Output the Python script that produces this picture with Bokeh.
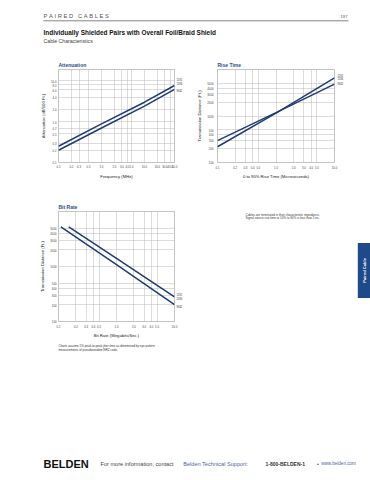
import math
from bokeh.plotting import figure
from bokeh.layouts import column, row
from bokeh.models import Range1d, FixedTicker, Label, CustomJSTickFormatter, LogAxis
from bokeh.embed import file_html
from bokeh.resources import INLINE

FONT = "Liberation Sans"
NAVY = "#1f3c72"
TITLE_BLUE = "#2b4e8e"
GRID = "#b8b8b8"
OUTLINE = "#9c9c9c"
NB = "\u00a0"

# ---------------- data ----------------
cable_codes = ["1192", "1186", "9842"]

# Attenuation
att_freq = [0.1, 1.0, 10.0, 50.0]
att_upper = [0.25, 0.88, 3.0, 7.7]
att_lower = [0.20, 0.70, 2.4, 6.2]
att_x_ticks = [0.1, 0.2, 0.3, 0.5, 1, 2, 3, 4, 5, 10, 20, 30, 40, 50]
att_x_labels = ["0.1", "0.2", "0.3", "0.5", "1.0", "2.0", "3.0", "4.0", "5.0",
                "10.0", "20.0", "30.0", "40.0", "50.0"]
att_y_ticks = [0.1, 0.2, 0.3, 0.5, 0.7, 1, 2, 4, 6, 8, 10]
att_y_labels = ["0.1", "0.2", "0.3", "0.5", "0.7", "1.0", "2.0", "4.0", "6.0", "8.0", "10.0"]

# Rise time
rise_time = [0.1, 1.0, 10.0]
rise_a = [218, 1150, 6640]
rise_b = [295, 1180, 4840]

# Bit rate
bit_x_upper = [0.15, 1.0, 10.0]
bit_upper = [5260, 1400, 280]
bit_x_lower = [0.11, 1.0, 10.0]
bit_lower = [5260, 1080, 203]

time_ticks = [0.1, 0.2, 0.3, 0.4, 0.5, 1, 2, 3, 4, 5, 10]
time_labels = ["0.1", "0.2", "0.3", "0.4", "0.5", "1.0", "2.0", "3.0", "4.0", "5.0", "10.0"]
dist_ticks = [100, 200, 300, 400, 500, 1000, 2000, 3000, 4000, 5000]
dist_labels = ["100", "200", "300", "400", "500", "1000", "2000", "3000", "4000", "5000"]


def fmt(ticks, labels):
    return CustomJSTickFormatter(args=dict(t=ticks, l=labels), code="""
        for (let i = 0; i < t.length; i++) {
            if (Math.abs(t[i] - tick) <= 1e-6 * t[i]) return l[i];
        }
        return "";
    """)


def style_axis(ax, size="2.8px"):
    ax.axis_line_color = None
    ax.major_tick_line_color = None
    ax.minor_tick_line_color = None
    ax.major_tick_in = 0
    ax.major_tick_out = 0
    ax.minor_tick_in = 0
    ax.minor_tick_out = 0
    ax.major_label_text_font = FONT
    ax.major_label_text_font_size = size
    ax.major_label_text_color = "#444444"
    ax.axis_label_text_font = FONT
    ax.axis_label_text_font_size = "4.2px"
    ax.axis_label_text_font_style = "normal"
    ax.axis_label_text_color = "#222222"


def chart(w, h, xr, yr, bl, br, bt, bb, xt, xl, yt, yl, xlabel, ylabel, ttl,
          x_std=(2, 2), y_std=(2, 2)):
    p = figure(width=w, height=h, x_axis_type="log", y_axis_type="log",
               x_range=Range1d(*xr), y_range=Range1d(*yr),
               output_backend="svg", toolbar_location=None,
               min_border_left=bl, min_border_right=br,
               min_border_top=bt, min_border_bottom=bb)
    p.outline_line_color = OUTLINE
    p.outline_line_width = 0.6
    p.xaxis.ticker = FixedTicker(ticks=xt, minor_ticks=[])
    p.yaxis.ticker = FixedTicker(ticks=yt, minor_ticks=[])
    p.xgrid.ticker = FixedTicker(ticks=xt, minor_ticks=[])
    p.ygrid.ticker = FixedTicker(ticks=yt, minor_ticks=[])
    p.xaxis.formatter = fmt(xt, xl)
    p.yaxis.formatter = fmt(yt, yl)
    p.grid.grid_line_color = GRID
    p.grid.grid_line_width = 0.5
    style_axis(p.xaxis[0])
    style_axis(p.yaxis[0])
    p.xaxis.axis_label = xlabel
    p.yaxis.axis_label = ylabel
    p.xaxis.major_label_standoff = x_std[0]
    p.xaxis.axis_label_standoff = x_std[1]
    p.yaxis.major_label_standoff = y_std[0]
    p.yaxis.axis_label_standoff = y_std[1]
    p.title.text = ttl
    p.title.text_font = FONT
    p.title.text_font_size = "5px"
    p.title.text_font_style = "bold"
    p.title.text_color = TITLE_BLUE
    p.title.align = "left"
    p.title.offset = 0
    p.title.standoff = 2.5
    return p


def tags(p, ys, labels, standoff):
    ax = LogAxis(ticker=FixedTicker(ticks=ys, minor_ticks=[]), formatter=fmt(ys, labels))
    style_axis(ax, size="2.6px")
    ax.major_label_standoff = standoff
    ax.major_label_text_color = "#333333"
    p.add_layout(ax, "right")


def text_fig(w, h, x0, y0):
    p = figure(width=w, height=h, x_range=Range1d(x0, x0 + w), y_range=Range1d(y0 + h, y0),
               x_axis_location=None, y_axis_location=None,
               output_backend="svg", toolbar_location=None, min_border=0)
    p.grid.visible = False
    p.outline_line_color = None
    return p


def txt(p, x, y, s, size, color="#333333", style="normal", align="left", angle=0):
    p.add_layout(Label(x=x, y=y, text=s, text_font=FONT, text_font_size=f"{size}px",
                       text_color=color, text_font_style=style, text_align=align,
                       text_baseline="middle", angle=angle))


# ---------------- header ----------------
H = text_fig(370, 58, 0, 0)
txt(H, 43, 15.7, NB.join("PAIRED") + NB * 3 + NB.join("CABLES"), 5.8, color="#555555")
txt(H, 347, 15.7, "197", 4.2, color="#555555", align="right")
H.segment(x0=[43], y0=[20.3], x1=[348], y1=[20.3], line_color="#666666", line_width=0.8)
txt(H, 43, 32, "Individually Shielded Pairs with Overall Foil/Braid Shield", 6.45,
    color="#111111", style="bold")
txt(H, 43, 40, "Cable Characteristics", 5.2, color="#444444")

# ---------------- attenuation ----------------
A = chart(185, 142, (0.1, 50), (0.1, 19), 58, 10, 10, 38,
          att_x_ticks, att_x_labels, att_y_ticks, att_y_labels,
          "Frequency (MHz)", "Attenuation (dB/100 Ft.)", "Attenuation",
          x_std=(2, 3), y_std=(2, 2))
A.line(att_freq, att_upper, line_color=NAVY, line_width=1.5)
A.line(att_freq, att_lower, line_color=NAVY, line_width=1.5)
tags(A, [att_upper[-1] * 1.34, att_upper[-1] * 1.10, att_lower[-1] * 0.93], cable_codes, 2)

# ---------------- rise time ----------------
R = chart(185, 142, (0.1, 10), (100, 10000), 32, 36, 10, 20,
          time_ticks, time_labels, dist_ticks, dist_labels,
          "0 to 90% Rise Time (Microseconds)", "Transmission Distance (Ft.)", "Rise Time",
          x_std=(3, 2), y_std=(4, 2))
R.line(rise_time, rise_a, line_color=NAVY, line_width=1.5)
R.line(rise_time, rise_b, line_color=NAVY, line_width=1.5)
tags(R, [rise_a[-1] * 1.11, rise_a[-1] * 0.97, rise_b[-1] * 1.0], cable_codes, 3)

# ---------------- bit rate ----------------
B = chart(185, 140, (0.1, 10), (100, 10000), 58, 10, 11, 17,
          time_ticks, time_labels, dist_ticks, dist_labels,
          "Bit Rate (Megabits/Sec.)", "Transmission Distance (Ft.)", "Bit Rate",
          x_std=(3, 2), y_std=(2, 2))
B.line(bit_x_upper, bit_upper, line_color=NAVY, line_width=1.5)
B.line(bit_x_lower, bit_lower, line_color=NAVY, line_width=1.5)
tags(B, [bit_upper[-1] * 1.07, bit_upper[-1] * 0.93, bit_lower[-1] * 0.91], cable_codes, 2)

# ---------------- right side text + tab ----------------
T = text_fig(185, 140, 185, 200)
txt(T, 245, 204, "Cables are terminated in their characteristic impedance.", 3)
txt(T, 245, 208.3, "Signal source rise time at 10% to 90% is less than 5 ns.", 3)
T.quad(left=[357.3], right=[370], top=[240], bottom=[310], fill_color="#1f4a8a", line_color=None)
txt(T, 363.6, 275, "Paired Cable", 4.1, color="white", style="bold", align="center",
    angle=math.pi / 2)

# ---------------- bit-rate note + footer ----------------
F = text_fig(370, 140, 0, 340)
txt(F, 58, 345, "Charts assume 5% peak-to-peak jitter time as determined by eye pattern", 3)
txt(F, 58, 349.3, "measurements of pseudorandom NRZ code.", 3)
txt(F, 43, 463.3, "BELDEN", 11, color="#111111", style="bold")
txt(F, 100, 463.3, "For more information, contact", 5.6, color="#444444")
txt(F, 182.7, 463.3, "Belden Technical Support:", 5.6, color="#4a6a9a")
txt(F, 265, 463.3, "1-800-BELDEN-1", 5.0, color="#333333", style="bold")
txt(F, 317.5, 463.3, "\u2022", 5, color="#444444", align="center")
txt(F, 320.7, 463.3, "www.belden.com", 4.6, color="#4a6a9a")

page = column(H, row(A, R), row(B, T), F)

open("out.html", "w").write(file_html(page, INLINE))
